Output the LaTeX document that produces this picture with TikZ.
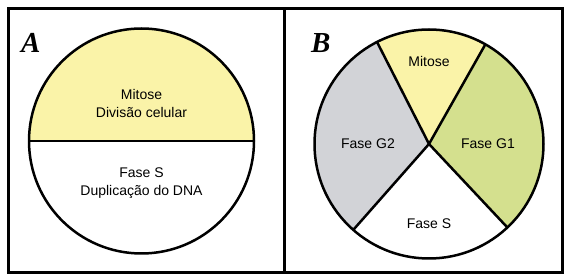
\documentclass[tikz,border=0pt]{standalone}
\usepackage{fontspec}
\setmainfont{Liberation Sans}
\newfontfamily\letterfont{Liberation Serif}
\definecolor{mitosecol}{HTML}{FAF3A8}
\definecolor{gonecol}{HTML}{D4E08E}
\definecolor{gtwocol}{HTML}{D2D3D7}
\begin{document}
\begin{tikzpicture}[x=1pt,y=1pt,
  lbl/.style={font=\fontsize{14}{16}\selectfont, anchor=base, inner sep=0pt},
  panel/.style={font=\letterfont\bfseries\itshape\fontsize{29}{30}\selectfont, anchor=base west, inner sep=0pt},
  rim/.style={line width=2.5pt, line join=round},
  frame/.style={line width=3pt}]
\useasboundingbox (0,0) rectangle (571,278);
% frames
\draw[frame] (8.5,5.5) rectangle (562.5,269);
\draw[frame] (284,5.5) -- (284,269);
% Panel A
\coordinate (ca) at (141.5,137);
\fill[mitosecol] (ca) ++(112.5,0) arc[start angle=0,end angle=180,radius=112.5] -- cycle;
\draw[rim] (ca) circle[radius=112.5];
\draw[rim] ([xshift=-112.5pt]ca) -- ([xshift=112.5pt]ca);
\node[panel] (pa) at (21,225) {A};
\node[lbl] (a1) at (141.5,178) {Mitose};
\node[lbl] (a2) at (141.5,160) {Divisão celular};
\node[lbl] (a3) at (141.5,100) {Fase S};
\node[lbl] (a4) at (141.5,82) {Duplicação do DNA};
% Panel B
\coordinate (cb) at (429,134);
\def\R{114.5}
\fill[mitosecol] (cb) -- ++(60.5:\R) arc[start angle=60.5,end angle=117,radius=\R] -- cycle;
\fill[gonecol] (cb) -- ++(-46.8:\R) arc[start angle=-46.8,end angle=60.5,radius=\R] -- cycle;
\fill[gtwocol] (cb) -- ++(117:\R) arc[start angle=117,end angle=228.6,radius=\R] -- cycle;
\draw[rim] (cb) circle[radius=\R];
\draw[rim] (cb) -- ++(60.5:\R);
\draw[rim] (cb) -- ++(117:\R);
\draw[rim] (cb) -- ++(-46.8:\R);
\draw[rim] (cb) -- ++(228.6:\R);
\node[panel] (pb) at (311,225) {B};
\node[lbl] (b1) at (429,211) {Mitose};
\node[lbl] (b2) at (368,129) {Fase G2};
\node[lbl] (b3) at (488,129) {Fase G1};
\node[lbl] (b4) at (429,49) {Fase S};
\end{tikzpicture}
\end{document}
